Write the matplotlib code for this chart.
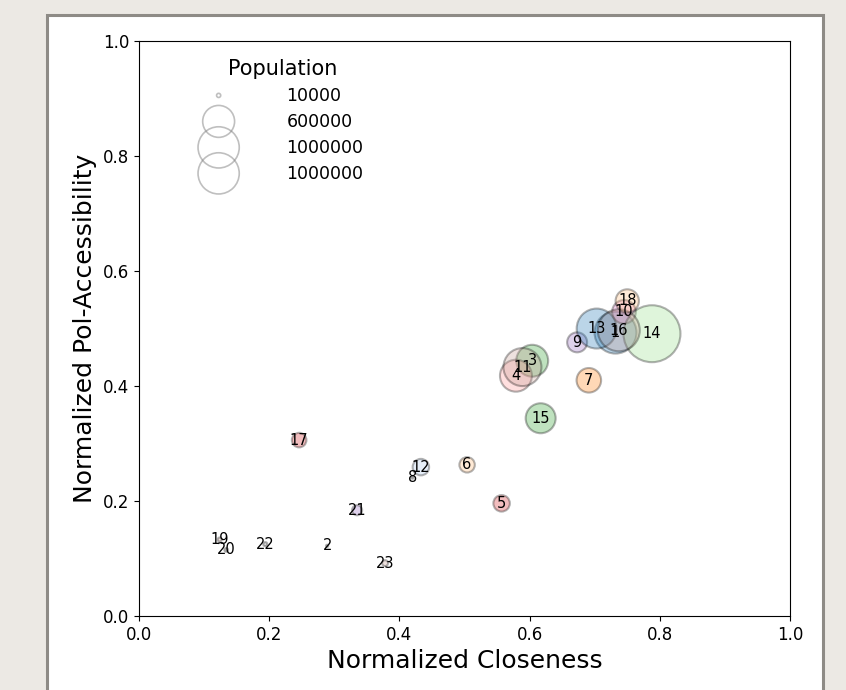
from pathlib import Path

import matplotlib.pyplot as plt
from matplotlib.patches import Rectangle


OUTPUT_FILE = Path("out.png")

# 节点编号、归一化接近度、归一化可达性、人口（按图中读数估计）
node_ids = [1, 2, 3, 4, 5, 6, 7, 8, 9, 10, 11, 12,
            13, 14, 15, 16, 17, 18, 19, 20, 21, 22, 23]
closeness = [0.732, 0.289, 0.604, 0.579, 0.557, 0.504, 0.691, 0.420,
             0.673, 0.745, 0.589, 0.433, 0.703, 0.788, 0.617, 0.737,
             0.246, 0.750, 0.124, 0.134, 0.335, 0.194, 0.378]
accessibility = [0.493, 0.122, 0.444, 0.418, 0.196, 0.263, 0.410, 0.241,
                 0.476, 0.529, 0.433, 0.259, 0.500, 0.491, 0.344, 0.497,
                 0.306, 0.548, 0.133, 0.115, 0.184, 0.125, 0.092]
population = [1040000, 3000, 600000, 600000, 160000, 140000, 355000, 4000,
              235000, 330000, 850000, 160000, 940000, 1910000, 530000, 1040000,
              125000, 320000, 10000, 8000, 60000, 10000, 21000]
node_colors = ["#1f77b4", "#7f7f7f", "#2ca02c", "#ff9896", "#d62728", "#ffbb78",
               "#ff7f0e", "#7f7f7f", "#9467bd", "#e377c2", "#c49c94", "#aec7e8",
               "#1f77b4", "#98df8a", "#2ca02c", "#c49c94", "#d62728", "#ffbb78",
               "#c49c94", "#7f7f7f", "#9467bd", "#7f7f7f", "#c49c94"]

# 图例中的人口刻度
legend_population = [10000, 600000, 1000000, 1000000]

# 人口 -> 点面积 (points^2)
SIZE_SCALE = 8.8e-4


def main():
    fig = plt.figure(figsize=(8.46, 6.90), dpi=100)
    fig.patch.set_facecolor("#ece9e4")

    # 白色图框（网页截图里的边框效果），放在坐标轴下面
    panel = Rectangle((0.0556, -0.02), 0.9172, 0.9983, transform=fig.transFigure,
                      facecolor="white", edgecolor="#8e8b86", linewidth=2.2,
                      zorder=-10)
    fig.add_artist(panel)

    ax = fig.add_axes([0.1643, 0.1072, 0.7695, 0.8333])

    sizes = [p * SIZE_SCALE for p in population]
    ax.scatter(closeness, accessibility, s=sizes, c=node_colors,
               alpha=0.3, edgecolors="black", linewidths=1.5, zorder=2)

    # 节点编号
    for nid, x, y in zip(node_ids, closeness, accessibility):
        ax.text(x, y, str(nid), ha="center", va="center", fontsize=10.5, zorder=3)

    # 人口图例
    for p in legend_population:
        ax.scatter([], [], s=p * SIZE_SCALE, facecolors="none",
                   edgecolors="gray", alpha=0.5, linewidths=1.2, label=str(p))
    ax.legend(title="Population", loc="upper left", bbox_to_anchor=(0.085, 0.98),
              borderaxespad=0, frameon=False, fontsize=12.5, title_fontsize=15,
              handlelength=2, handletextpad=2.9, labelspacing=0.46,
              scatteryoffsets=[0.5])

    ax.set_xlim(0, 1)
    ax.set_ylim(0, 1)
    ax.set_xticks([0, 0.2, 0.4, 0.6, 0.8, 1.0])
    ax.set_yticks([0, 0.2, 0.4, 0.6, 0.8, 1.0])
    ax.tick_params(labelsize=12)
    ax.set_xlabel("Normalized Closeness", fontsize=18)
    ax.set_ylabel("Normalized Pol-Accessibility", fontsize=18)

    fig.savefig(OUTPUT_FILE, dpi=100, facecolor=fig.get_facecolor())
    plt.close(fig)


if __name__ == "__main__":
    main()
